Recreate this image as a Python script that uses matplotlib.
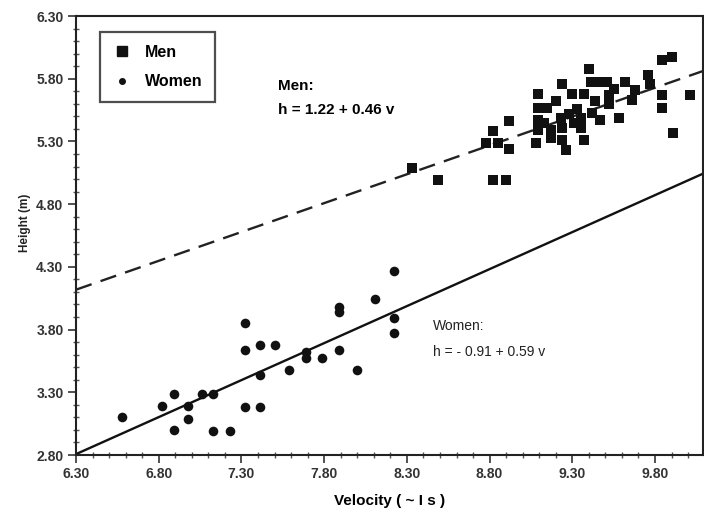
import matplotlib
matplotlib.use("Agg")
import matplotlib.pyplot as plt
import numpy as np
from matplotlib.ticker import MultipleLocator, FixedLocator
from matplotlib.lines import Line2D

plt.rcParams['font.family'] = ['Liberation Sans', 'DejaVu Sans']

# ---- data ----
women_v = [6.58, 6.82, 6.89, 6.89, 6.98, 6.98, 7.06, 7.13, 7.13, 7.23,
           7.32, 7.32, 7.32, 7.41, 7.41, 7.41, 7.50, 7.59, 7.69, 7.69,
           7.79, 7.89, 7.89, 7.89, 8.00, 8.11, 8.22, 8.22, 8.22]
women_h = [3.10, 3.19, 3.29, 3.00, 3.19, 3.09, 3.29, 3.29, 2.99, 2.99,
           3.85, 3.64, 3.18, 3.68, 3.44, 3.18, 3.68, 3.48, 3.62, 3.57,
           3.57, 3.98, 3.94, 3.64, 3.48, 4.04, 4.27, 3.89, 3.77]

men_v = [8.33, 8.49, 8.82, 8.90, 8.78, 8.85, 8.82, 8.92, 8.92, 9.09,
         9.09, 9.09, 9.09, 9.08, 9.15, 9.17, 9.17, 9.23, 9.24, 9.24,
         9.24, 9.26, 9.30, 9.33, 9.35, 9.35, 9.37, 9.37, 9.40, 9.41,
         9.46, 9.51, 9.42, 9.47, 9.52, 9.52, 9.58, 9.62, 9.68, 9.76,
         9.77, 9.84, 9.90, 9.84, 9.84, 9.91, 10.01, 9.13, 9.20, 9.28,
         9.31, 9.44, 9.55, 9.66]
men_h = [5.09, 4.99, 4.99, 4.99, 5.29, 5.29, 5.38, 5.46, 5.24, 5.68,
         5.57, 5.47, 5.39, 5.29, 5.57, 5.39, 5.33, 5.49, 5.76, 5.41,
         5.31, 5.23, 5.68, 5.56, 5.49, 5.41, 5.31, 5.68, 5.88, 5.77,
         5.77, 5.77, 5.53, 5.47, 5.67, 5.60, 5.49, 5.77, 5.71, 5.83,
         5.76, 5.95, 5.97, 5.67, 5.57, 5.37, 5.67, 5.45, 5.62, 5.52,
         5.45, 5.62, 5.72, 5.63]

# regression lines (from annotated equations)
men_intercept, men_slope = 1.22, 0.46
women_intercept, women_slope = -0.91, 0.59

x_ticks = [6.30, 6.80, 7.30, 7.80, 8.30, 8.80, 9.30, 9.80]
x_tick_labels = ["6.30", "6.80", "7.30", "7.80", "8.30", "8.80", "9.30", "9.80"]
y_ticks = [2.80, 3.30, 3.80, 4.30, 4.80, 5.30, 5.80, 6.30]
y_tick_labels = ["2.80", "3.30", "3.80", "4.30", "4.80", "5.30", "5.80", "6.30"]

# ---- figure ----
fig = plt.figure(figsize=(7.04, 5.14), dpi=100)
ax = fig.add_axes([76/704, 1-455/514, 627/704, 439/514])
xmin, xmax = 6.30, 10.09
ymin, ymax = 2.80, 6.30
ax.set_xlim(xmin, xmax)
ax.set_ylim(ymin, ymax)

vv = np.array([xmin, xmax])
ax.plot(vv, men_intercept + men_slope*vv, color='#222222', lw=1.7,
        dashes=(7, 4), zorder=2)
ax.plot(vv, women_intercept + women_slope*vv, color='#111111', lw=1.7, zorder=2)

ax.scatter(men_v, men_h, marker='s', s=52, color='#111111', linewidths=0, zorder=3)
ax.scatter(women_v, women_h, marker='o', s=48, color='#111111', linewidths=0, zorder=3)

ax.xaxis.set_major_locator(FixedLocator(x_ticks))
ax.set_xticklabels(x_tick_labels)
ax.yaxis.set_major_locator(FixedLocator(y_ticks))
ax.set_yticklabels(y_tick_labels)
ax.xaxis.set_minor_locator(MultipleLocator(0.1))
ax.yaxis.set_minor_locator(MultipleLocator(0.1))
ax.tick_params(which='major', direction='out', length=6, width=1.2,
               labelsize=10, colors='#333333', pad=3)
ax.tick_params(which='minor', direction='inout', length=4, width=1.0, color='#555555')
for lbl in ax.get_xticklabels() + ax.get_yticklabels():
    lbl.set_fontweight('bold')
for sp in ax.spines.values():
    sp.set_linewidth(1.5)
    sp.set_color('#222222')

ax.set_xlabel("Velocity ( ~ I s )", fontsize=11, fontweight='bold', labelpad=9)
ax.set_ylabel("Height (m)", fontsize=8.5, fontweight='bold', labelpad=3, color='#222222')
ax.yaxis.set_label_coords(-0.072, 0.53)

ax.text(7.52, 5.74, "Men:", fontsize=11, fontweight='bold', ha='left', va='center')
ax.text(7.52, 5.55, "h = 1.22 + 0.46 v", fontsize=11, fontweight='bold',
        ha='left', va='center')
ax.text(8.46, 3.83, "Women:", fontsize=10, ha='left', va='center', color='#222222')
ax.text(8.46, 3.62, "h = - 0.91 + 0.59 v", fontsize=10, ha='left', va='center',
        color='#222222')

handles = [Line2D([], [], marker='s', ls='none', color='#111111', markersize=6.5),
           Line2D([], [], marker='o', ls='none', color='#111111', markersize=4)]
leg = ax.legend(handles, ["Men", "Women"], loc='upper left',
                bbox_to_anchor=(0.038, 0.963), frameon=True, fancybox=False,
                edgecolor='#222222', fontsize=11.5, handletextpad=0.8,
                borderpad=0.8, labelspacing=0.9, handlelength=1.2,
                borderaxespad=0)
leg.get_frame().set_linewidth(1.6)
for t in leg.get_texts():
    t.set_fontweight('bold')

fig.savefig("out.png", dpi=100)
